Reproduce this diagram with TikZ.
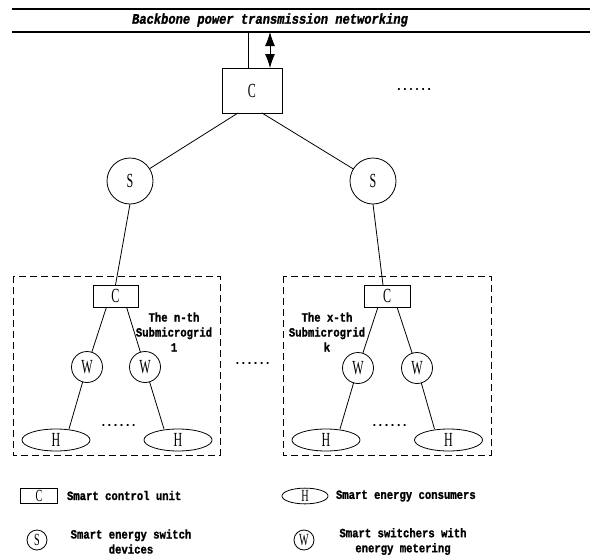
\documentclass[tikz,border=0pt]{standalone}
\usepackage{fontspec}
\newfontfamily\lblfont{Liberation Mono}[FakeStretch=0.84,BoldFeatures={FakeBold=1.2},BoldItalicFeatures={FakeBold=1.2}]
\newfontfamily\letterfont{Liberation Serif}[FakeStretch=0.6]
\usetikzlibrary{shapes.geometric,arrows.meta}
\begin{document}
\begin{tikzpicture}[x=1pt,y=-1pt,
  every node/.style={inner sep=0pt,outer sep=0pt},
  conn/.style={line width=0.8pt},
  busline/.style={line width=1.1pt},
  grid/.style={draw,line width=0.8pt,dash pattern=on 7pt off 4pt},
  ctrl/.style={draw,line width=0.8pt,rectangle,font=\letterfont\fontsize{20}{20}\selectfont},
  sw/.style={draw,line width=0.8pt,circle,font=\letterfont\fontsize{20}{20}\selectfont},
  cons/.style={draw,line width=0.8pt,ellipse,minimum width=68pt,minimum height=22pt,font=\letterfont\fontsize{20}{20}\selectfont},
  lbl/.style={font=\lblfont\bfseries\fontsize{12.6}{15}\selectfont,align=center},
  dots/.style={font=\lblfont\bfseries\fontsize{12}{12}\selectfont},
  legletter/.style={font=\letterfont\fontsize{17}{17}\selectfont}
]
\useasboundingbox (0,0) rectangle (590,555);

% backbone
\draw[busline] (12,9) -- (590,9);
\coordinate (busL) at (12,32);
\coordinate (busR) at (590,32);
\draw[busline] (busL) -- (busR);
\node[font=\lblfont\bfseries\itshape\fontsize{14.4}{14}\selectfont] (title) at (270,20) {Backbone power transmission networking};

% top controller
\node[ctrl,minimum width=60pt,minimum height=45pt] (C0) at (252,90.5) {C};
\draw[conn] ([xshift=-4pt]C0.north) -- ([xshift=-4pt]C0.north |- busL);
\draw[conn,{Latex[length=14pt,width=10pt]}-{Latex[length=14pt,width=10pt]}] ([xshift=18pt]C0.north |- busL) -- ([xshift=18pt]C0.north);
\node[dots] (dtop) at (414,89) {......};

% switches
\node[sw,minimum size=46pt] (S1) at (130,181) {S};
\node[sw,minimum size=46pt] (S2) at (373,181) {S};
\draw[conn] ([xshift=-14pt]C0.south) -- (S1);
\draw[conn] ([xshift=10pt]C0.south) -- (S2);

% submicrogrid frames
\draw[grid] (13,276) rectangle (220,455);
\draw[grid] (283,276) rectangle (491,455);

% submicrogrid controllers
\node[ctrl,minimum width=45pt,minimum height=22pt] (C1) at (115.5,296) {C};
\node[ctrl,minimum width=46pt,minimum height=22pt] (C2) at (387,296) {C};
\draw[conn] (S1.south) -- (C1.north);
\draw[conn] (S2.south) -- ([xshift=-4pt]C2.north);

% metering switches
\node[sw,minimum size=31pt] (W11) at (87,367) {W};
\node[sw,minimum size=31pt] (W12) at (145,367) {W};
\node[sw,minimum size=31pt] (W21) at (358,368) {W};
\node[sw,minimum size=31pt] (W22) at (417,368) {W};
\draw[conn] ([xshift=-9pt]C1.south) -- (W11);
\draw[conn] ([xshift=11pt]C1.south) -- (W12);
\draw[conn] ([xshift=-9pt]C2.south) -- (W21);
\draw[conn] ([xshift=10pt]C2.south) -- (W22);

% consumers
\node[cons] (H11) at (56,440) {H};
\node[cons] (H12) at (178,440) {H};
\node[cons] (H21) at (326,440) {H};
\node[cons] (H22) at (448.5,440) {H};
\draw[conn] (W11) -- ([xshift=13pt]H11.north);
\draw[conn] (W12) -- ([xshift=-14pt]H12.north);
\draw[conn] (W21) -- ([xshift=14pt]H21.north);
\draw[conn] (W22) -- ([xshift=-14pt]H22.north);

\node[dots] (dl) at (118.5,425) {......};
\node[dots] (dr) at (389.5,425) {......};
\node[dots] (dm) at (252.5,363) {......};

% labels
\node[lbl] (lab1) at (174,332) {The n-th\\Submicrogrid\\1};
\node[lbl] (lab2) at (327,332) {The x-th\\Submicrogrid\\k};

% legend
\node[draw,line width=0.8pt,rectangle,minimum width=37pt,minimum height=15pt,legletter] (LC) at (39,495.5) {C};
\node[lbl,anchor=west] (LCt) at (67,495.5) {Smart control unit};
\node[draw,line width=0.8pt,ellipse,minimum width=46pt,minimum height=12pt,legletter] (LH) at (305,496) {H};
\node[lbl,anchor=west] (LHt) at (336,496) {Smart energy consumers};
\node[draw,line width=0.8pt,circle,minimum size=20pt,legletter] (LS) at (37,540) {S};
\node[lbl] (LSt) at (131,541.5) {Smart energy switch\\devices};
\node[draw,line width=0.8pt,circle,minimum size=20pt,legletter] (LW) at (304,540) {W};
\node[lbl] (LWt) at (403,541.5) {Smart switchers with\\energy metering};
\end{tikzpicture}
\end{document}
